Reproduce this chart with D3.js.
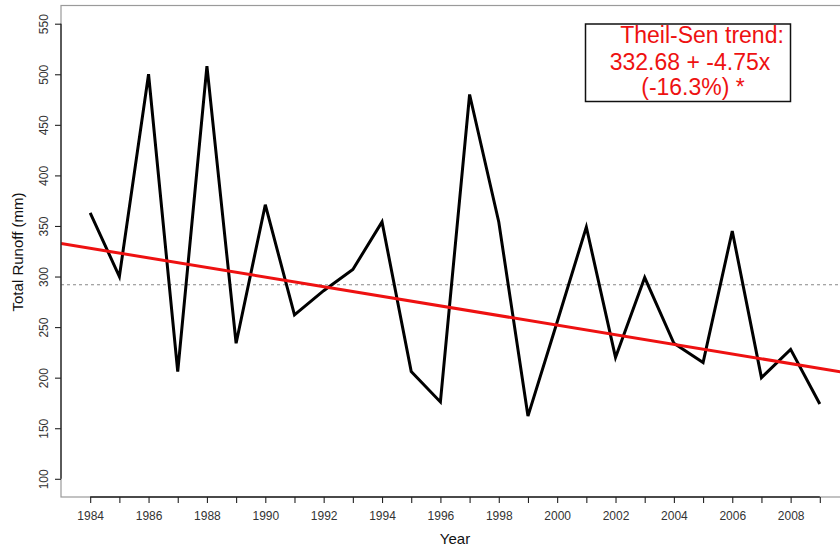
<!DOCTYPE html>
<html>
<head>
<meta charset="utf-8">
<script src="https://cdn.jsdelivr.net/npm/d3@7"></script>
<style>
  html, body { margin: 0; padding: 0; background: #fff; }
  svg { display: block; font-family: "Liberation Sans", Arial, Helvetica, sans-serif; }
</style>
</head>
<body>
<svg id="chart" width="840" height="556"></svg>
<script>
// Annual total runoff series
const years = [1984, 1985, 1986, 1987, 1988, 1989, 1990, 1991, 1992, 1993, 1994, 1995, 1996,
               1997, 1998, 1999, 2000, 2001, 2002, 2003, 2004, 2005, 2006, 2007, 2008, 2009];
const runoff = [363, 300, 500, 206, 508, 234, 371, 262, 286, 307, 354, 206, 176,
                480, 354, 162, 255, 349, 220, 299, 234, 215, 345, 200, 228, 174];

// Theil-Sen fit: value = intercept + slope * (year - 1983)
const trendIntercept = 332.68;
const trendSlope = -4.75;
const trendOrigin = 1983;
const legendLines = ["Theil-Sen trend:", "332.68 + -4.75x", "(-16.3%) *"];

// Axis ticks
const yTicks = [100, 150, 200, 250, 300, 350, 400, 450, 500, 550];
const xTicks = d3.range(1984, 2010);
const xLabelTicks = d3.range(1984, 2010, 2);

const svg = d3.select("#chart");

// Plot region (limits padded 4% beyond 1984–2009 and 100–550)
const plotL = 61, plotR = 849, plotT = 5.5, plotB = 497;
const x = d3.scaleLinear().domain([1983, 2010]).range([plotL, plotR]);
const y = d3.scaleLinear().domain([82, 568]).range([plotB, plotT]);

svg.append("defs").append("clipPath").attr("id", "plotClip")
  .append("rect").attr("x", plotL).attr("y", plotT)
  .attr("width", plotR - plotL).attr("height", plotB - plotT);

// Plot frame
svg.append("rect")
  .attr("x", plotL).attr("y", plotT)
  .attr("width", plotR - plotL).attr("height", plotB - plotT)
  .attr("fill", "none").attr("stroke", "#9a9a9a").attr("stroke-width", 1.2);

const plot = svg.append("g").attr("clip-path", "url(#plotClip)");

// Long-term mean
const meanVal = d3.mean(runoff);
plot.append("line")
  .attr("x1", plotL).attr("x2", plotR)
  .attr("y1", y(meanVal)).attr("y2", y(meanVal))
  .attr("stroke", "#888").attr("stroke-width", 1.1)
  .attr("stroke-dasharray", "3,3");

// Runoff series
const series = years.map((yr, i) => [yr, runoff[i]]);
plot.append("path")
  .datum(series)
  .attr("fill", "none")
  .attr("stroke", "#000")
  .attr("stroke-width", 3)
  .attr("stroke-linejoin", "miter")
  .attr("d", d3.line().x(d => x(d[0])).y(d => y(d[1])));

// Trend line across the plot
const trendAt = yr => trendIntercept + trendSlope * (yr - trendOrigin);
const xDom = x.domain();
plot.append("line")
  .attr("x1", x(xDom[0])).attr("y1", y(trendAt(xDom[0])))
  .attr("x2", x(xDom[1])).attr("y2", y(trendAt(xDom[1])))
  .attr("stroke", "#ee1111").attr("stroke-width", 3);

// Y axis
const yAxis = svg.append("g").attr("transform", `translate(${plotL},0)`)
  .call(d3.axisLeft(y).tickValues(yTicks).tickSize(6).tickFormat(d3.format("d")));
yAxis.select(".domain").attr("stroke", "#222").attr("stroke-width", 1.3)
  .attr("d", `M0,${y(yTicks[0])}V${y(yTicks[yTicks.length - 1])}`);
yAxis.selectAll(".tick line").attr("stroke", "#222").attr("stroke-width", 1.1);
yAxis.selectAll(".tick text")
  .attr("font-size", 12).attr("fill", "#333")
  .attr("transform", "rotate(-90)")
  .attr("x", 0).attr("y", -13)
  .attr("dy", 0)
  .attr("text-anchor", "middle");

// X axis
const xAxis = svg.append("g").attr("transform", `translate(0,${plotB})`)
  .call(d3.axisBottom(x).tickValues(xTicks).tickSize(6)
    .tickFormat(d => xLabelTicks.includes(d) ? String(d) : ""));
xAxis.select(".domain").attr("stroke", "#222").attr("stroke-width", 1.3)
  .attr("d", `M${x(xTicks[0])},0H${x(xTicks[xTicks.length - 1])}`);
xAxis.selectAll(".tick line").attr("stroke", "#222").attr("stroke-width", 1.1);
xAxis.selectAll(".tick text")
  .attr("font-size", 12).attr("fill", "#333")
  .attr("y", 22.5).attr("dy", 0);

// Axis titles
svg.append("text")
  .attr("transform", "translate(23,252) rotate(-90)")
  .attr("text-anchor", "middle")
  .attr("font-size", 15).attr("fill", "#111")
  .text("Total Runoff (mm)");

svg.append("text")
  .attr("x", 455).attr("y", 544)
  .attr("text-anchor", "middle")
  .attr("font-size", 15).attr("fill", "#111")
  .text("Year");

// Trend legend
svg.append("rect")
  .attr("x", 585.5).attr("y", 24)
  .attr("width", 205).attr("height", 77.5)
  .attr("fill", "#fff").attr("stroke", "#111").attr("stroke-width", 1.5);

const legendCx = [702, 690, 693];
const legendBase = [43, 69.5, 95];
svg.selectAll("text.legend")
  .data(legendLines)
  .join("text")
  .attr("class", "legend")
  .attr("x", (d, i) => legendCx[i])
  .attr("y", (d, i) => legendBase[i])
  .attr("text-anchor", "middle")
  .attr("font-size", 23)
  .attr("fill", "#ee1111")
  .text(d => d);
</script>
</body>
</html>
